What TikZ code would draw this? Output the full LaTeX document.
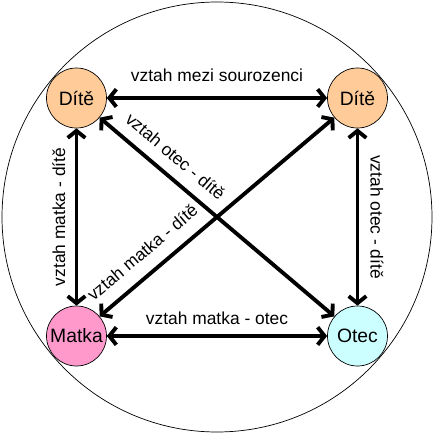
\documentclass[tikz,border=0pt]{standalone}
\usepackage{fontspec}
\setmainfont{Liberation Sans}
\usepackage{xcolor}
\usetikzlibrary{arrows.meta}

\definecolor{ditecol}{HTML}{FFCC99}
\definecolor{matkacol}{HTML}{FF99CC}
\definecolor{oteccol}{HTML}{CCFFFF}

\begin{document}
\begin{tikzpicture}[
  osoba/.style={circle, draw, thin, minimum size=1.2cm, inner sep=0pt, font=\fontsize{11}{13}\selectfont},
  arr/.style={{Straight Barb[length=4pt,width=10pt]}-{Straight Barb[length=4pt,width=10pt]}, line width=2.2pt},
  popis/.style={font=\fontsize{9.9}{12}\selectfont, sloped}]
  \useasboundingbox (-4.34,-4.34) rectangle (4.34,4.34);

  % rodina
  \draw[thin] (0,0) circle (4.3);

  % osoby
  \node[osoba, fill=ditecol]   (dite1) at (-2.81, 2.38) {Dítě};
  \node[osoba, fill=ditecol]   (dite2) at ( 2.81, 2.38) {Dítě};
  \node[osoba, fill=matkacol]  (matka) at (-2.81,-2.38) {Matka};
  \node[osoba, fill=oteccol]   (otec)  at ( 2.81,-2.38) {Otec};

  % vztahy
  \draw[arr] (dite1) -- node[popis, above=5pt] {vztah mezi sourozenci} (dite2);
  \draw[arr] (matka) -- node[popis, above=2pt] {vztah matka - otec} (otec);
  \draw[arr] (matka) -- node[popis, above=2pt] {vztah matka - dítě} (dite1);
  \draw[arr] (dite2) -- node[popis, above=3pt] {vztah otec - dítě} (otec);
  \draw[arr] (dite1) -- node[popis, pos=0.27, above=3pt] {vztah otec - dítě} (otec);
  \draw[arr] (matka) -- node[popis, pos=0.24, above=4pt] {vztah matka - dítě} (dite2);
\end{tikzpicture}
\end{document}
